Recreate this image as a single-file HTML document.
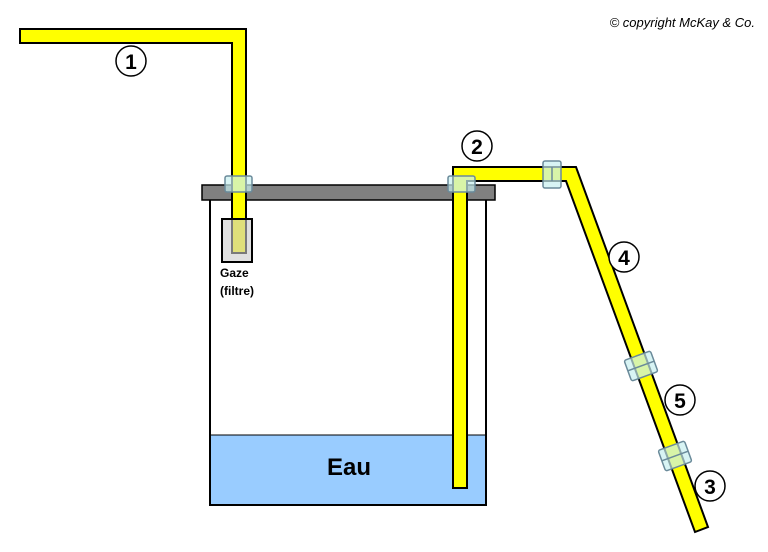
<!DOCTYPE html>
<html><head><style>body{margin:0;background:#fff}svg{display:block}</style></head><body>
<svg width="768" height="552" xmlns="http://www.w3.org/2000/svg" font-family="Liberation Sans, sans-serif">
<rect width="768" height="552" fill="#fff"/>
<text x="755" y="27" text-anchor="end" font-size="13" font-style="italic">© copyright McKay &amp; Co.</text>
<!-- bucket -->
<rect x="210" y="435" width="276" height="70" fill="#99ccff"/>
<line x1="210" y1="435" x2="486" y2="435" stroke="#000" stroke-width="1"/>
<rect x="210" y="199" width="276" height="306" fill="none" stroke="#000" stroke-width="2"/>
<rect x="202" y="185" width="293" height="15" fill="#808080" stroke="#000" stroke-width="1.5"/>
<text x="349" y="475" text-anchor="middle" font-size="24" font-weight="bold">Eau</text>
<!-- tube 1 -->
<polygon points="20,29 246,29 246,253 232,253 232,43 20,43" fill="#ffff00" stroke="#000" stroke-width="2"/>
<rect x="222" y="219" width="30" height="43" fill="#ccc" fill-opacity="0.6" stroke="#000" stroke-width="2"/>
<text x="220" y="277" font-size="12" font-weight="bold">Gaze</text>
<text x="220" y="295" font-size="12" font-weight="bold">(filtre)</text>
<!-- tube 2 -->
<polygon points="453,488 453,167 576,167 708,527 695,532 566,181 467,181 467,488" fill="#ffff00" stroke="#000" stroke-width="2"/>
<!-- clamps -->
<g fill="#c8f0f0" fill-opacity="0.7" stroke="#6a8a9a" stroke-width="1.5">
<rect x="225" y="176" width="27" height="16" rx="2"/>
<rect x="448" y="176" width="27" height="16" rx="2"/>
<rect x="543" y="161" width="18" height="27" rx="2"/>
<g transform="translate(641,366) rotate(-20)"><rect x="-14" y="-11" width="28" height="22" rx="2"/><line x1="-14" y1="0" x2="14" y2="0"/></g>
<g transform="translate(675,456) rotate(-20)"><rect x="-14" y="-11" width="28" height="22" rx="2"/><line x1="-14" y1="0" x2="14" y2="0"/></g>
<line x1="552" y1="167" x2="552" y2="181"/>
</g>
<!-- labels -->
<g fill="#fff" stroke="#000" stroke-width="1.5">
<circle cx="131" cy="61" r="15"/><circle cx="477" cy="146" r="15"/><circle cx="624" cy="257" r="15"/><circle cx="680" cy="400" r="15"/><circle cx="710" cy="486" r="15"/>
</g>
<g font-size="21" font-weight="bold" text-anchor="middle">
<text x="131" y="69">1</text><text x="477" y="154">2</text><text x="624" y="265">4</text><text x="680" y="408">5</text><text x="710" y="494">3</text>
</g>
</svg>
</body></html>
